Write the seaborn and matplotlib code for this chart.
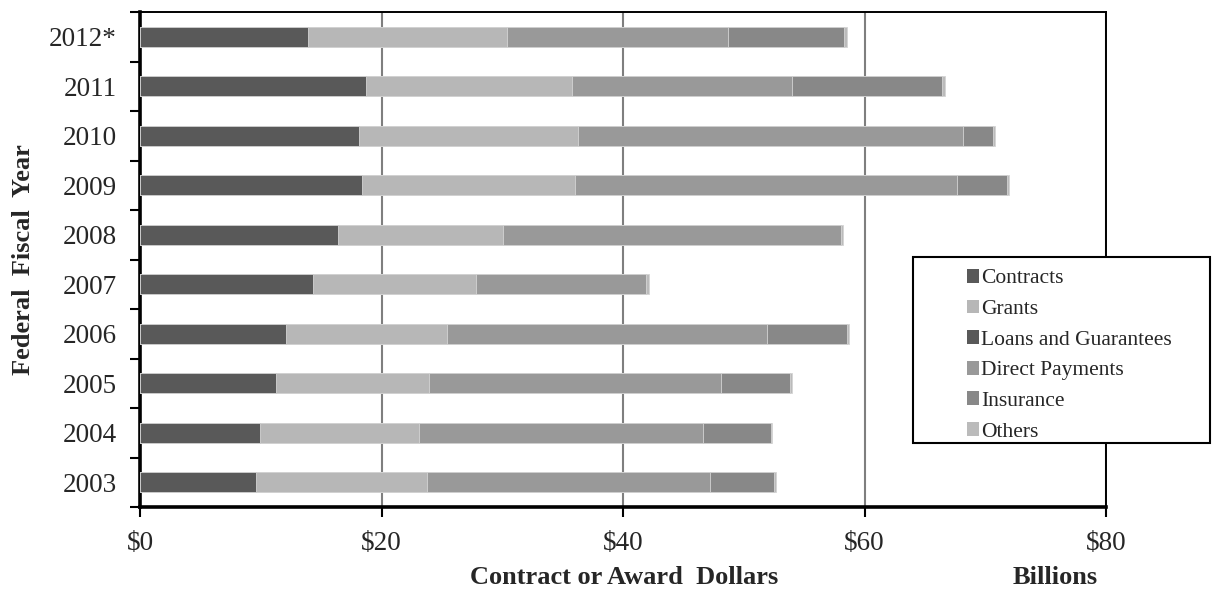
import numpy as np
import pandas as pd
import matplotlib
matplotlib.use("Agg")
import matplotlib.pyplot as plt
from matplotlib.patches import Patch, Rectangle
import seaborn as sns

# ---- data (top to bottom) ----
years = ["2012*", "2011", "2010", "2009", "2008", "2007", "2006", "2005", "2004", "2003"]
contracts = [13.9, 18.7, 18.1, 18.4, 16.4, 14.3, 12.1, 11.3, 9.9, 9.6]
grants = [16.5, 17.1, 18.2, 17.6, 13.7, 13.5, 13.3, 12.6, 13.2, 14.2]
loans = [0.03, 0.03, 0.03, 0.03, 0.03, 0.03, 0.03, 0.03, 0.03, 0.03]
direct = [18.3, 18.2, 31.8, 31.6, 27.9, 14.1, 26.5, 24.2, 23.5, 23.4]
insurance = [9.6, 12.4, 2.5, 4.2, 0.0, 0.0, 6.6, 5.7, 5.6, 5.3]
others = [0.2, 0.2, 0.15, 0.15, 0.15, 0.2, 0.15, 0.2, 0.15, 0.15]

series_names = ["Contracts", "Grants", "Loans and Guarantees", "Direct Payments", "Insurance", "Others"]
series_vals = [contracts, grants, loans, direct, insurance, others]
series_colors = ["#595959", "#b7b7b7", "#595959", "#999999", "#888888", "#bbbbbb"]
xticks = [0, 20, 40, 60, 80]
xtick_labels = ["$0", "$20", "$40", "$60", "$80"]

sns.set_style("white")
plt.rcParams["font.family"] = ["Liberation Serif", "DejaVu Serif"]

fig = plt.figure(figsize=(12.12, 5.90), dpi=100)
ax = fig.add_axes([140 / 1212, 1 - 507 / 590, (1106 - 140) / 1212, (507 - 12) / 590])

cum = np.cumsum(np.array(series_vals), axis=0)
df = pd.DataFrame({"year": years})
for i in range(len(series_names) - 1, -1, -1):
    if i == 2:
        continue  # loans sliver is hidden under the segment boundary line
    df["v"] = cum[i]
    sns.barplot(data=df, x="v", y="year", order=years, orient="h",
                color=series_colors[i], width=0.41, edgecolor="#d4d4d4",
                linewidth=0.6, saturation=1, ax=ax, zorder=3)

ax.set_xlim(0, 80)
ax.set_ylim(9.5, -0.5)
ax.set_xticks(xticks)
ax.set_xticklabels(xtick_labels, fontsize=19.5)
ax.set_yticks(range(len(years)))
ax.set_yticklabels(years, fontsize=19.5)
ax.set_yticks(np.arange(-0.5, len(years), 1), minor=True)
ax.tick_params(axis="y", which="major", length=0, pad=17)
ax.tick_params(axis="y", which="minor", left=True, length=7, width=1.5, direction="out", color="black")
ax.tick_params(axis="x", which="major", bottom=True, length=7, width=1.5, direction="out", pad=10, color="black")
ax.set_xlabel("")
ax.set_ylabel("")
ax.set_axisbelow(True)
ax.grid(axis="x", color="#7f7f7f", linewidth=1.5, zorder=0)
ax.grid(axis="y", visible=False)
for side, lw in [("left", 2.6), ("bottom", 2.6), ("top", 1.4), ("right", 1.4)]:
    ax.spines[side].set_visible(True)
    ax.spines[side].set_color("black")
    ax.spines[side].set_linewidth(lw)

fig.text(624 / 1212, 1 - 577 / 590, "Contract or Award  Dollars", fontsize=19,
         fontweight="bold", ha="center", va="center")
fig.text(1055 / 1212, 1 - 577 / 590, "Billions", fontsize=19,
         fontweight="bold", ha="center", va="center")
fig.text(24 / 1212, 1 - 260 / 590, "Federal  Fiscal  Year", fontsize=19,
         fontweight="bold", ha="center", va="center", rotation=90)

fig.add_artist(Rectangle((913 / 1212, 1 - 443 / 590), 297 / 1212, 186 / 590,
                         transform=fig.transFigure, facecolor="white",
                         edgecolor="black", linewidth=1.5, zorder=5))
handles = [Patch(facecolor=c, edgecolor="none") for c in series_colors]
leg = fig.legend(handles, series_names, loc="upper left",
                 bbox_to_anchor=(967 / 1212, 1 - 269 / 590), frameon=False,
                 fontsize=15.5, handlelength=0.55, handleheight=0.6,
                 handletextpad=0.12, labelspacing=0.52, borderpad=0,
                 borderaxespad=0)
leg.set_zorder(6)

fig.savefig("out.png", dpi=100)
